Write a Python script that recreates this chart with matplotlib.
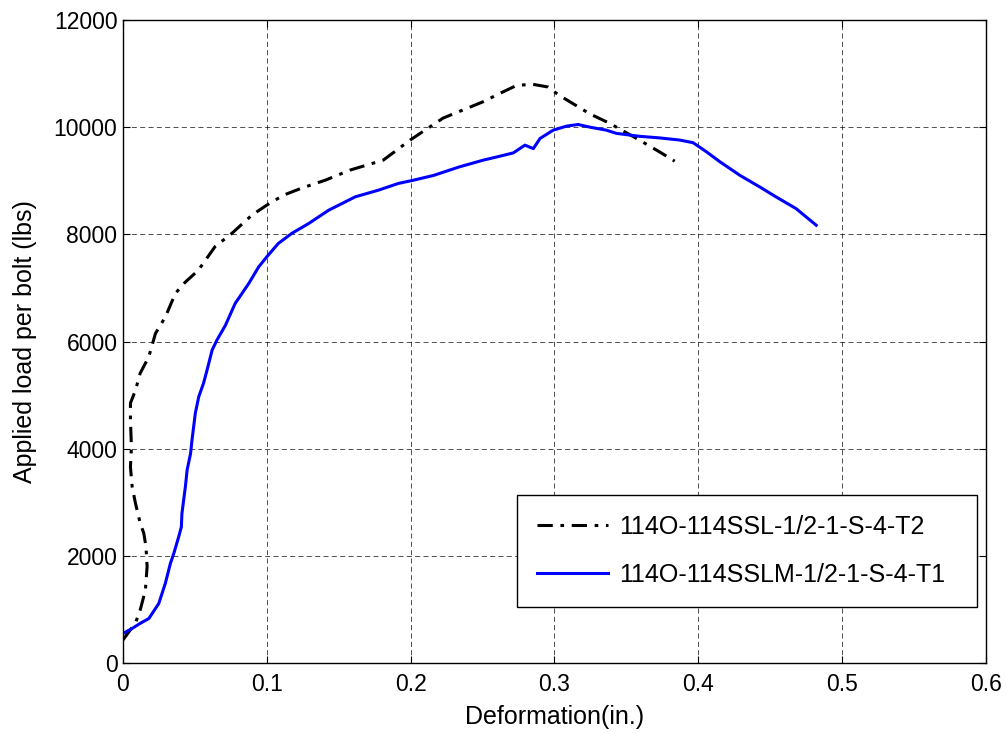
import matplotlib
matplotlib.use("Agg")
import matplotlib.pyplot as plt

plt.rcParams['font.family'] = ['Liberation Sans', 'DejaVu Sans']

# specimen T2 (dash-dot black)
t2_def = [0.0, 0.0087, 0.012, 0.0156, 0.0168, 0.016, 0.0145, 0.012, 0.0087, 0.0064,
          0.0052, 0.0059, 0.0052, 0.0052, 0.0087, 0.012, 0.0179, 0.0226, 0.0295, 0.0365,
          0.0434, 0.0524, 0.064, 0.0758, 0.0897, 0.1, 0.1115, 0.124, 0.1406, 0.158,
          0.181, 0.1997, 0.2226, 0.25, 0.262, 0.2737, 0.285, 0.2955, 0.303, 0.3245,
          0.3385, 0.359, 0.373, 0.3836]
t2_load = [430, 746, 990, 1360, 1800, 2170, 2420, 2610, 2980, 3290,
           3660, 4035, 4530, 4850, 5090, 5410, 5710, 6150, 6460, 6900,
           7110, 7330, 7770, 8020, 8360, 8545, 8730, 8860, 9010, 9200,
           9385, 9760, 10170, 10470, 10630, 10780, 10800, 10750, 10600, 10250,
           10070, 9760, 9540, 9365]

# specimen T1 (solid blue)
t1_def = [0.0, 0.0064, 0.012, 0.018, 0.0249, 0.0295, 0.033, 0.0353, 0.0388, 0.0406,
          0.041, 0.0434, 0.0446, 0.047, 0.048, 0.0503, 0.0527, 0.056, 0.0585, 0.062,
          0.0654, 0.0712, 0.078, 0.0874, 0.0943, 0.1, 0.108, 0.1175, 0.129, 0.143,
          0.1615, 0.1777, 0.1915, 0.2019, 0.216, 0.234, 0.2505, 0.26, 0.2714, 0.2795,
          0.2853, 0.29, 0.2992, 0.3085, 0.3165, 0.3247, 0.336, 0.343, 0.359, 0.373,
          0.387, 0.3964, 0.4057, 0.415, 0.429, 0.4427, 0.454, 0.468, 0.482]
t1_load = [550, 645, 740, 830, 1110, 1490, 1860, 2040, 2360, 2540,
           2790, 3290, 3600, 3910, 4160, 4660, 4970, 5220, 5470, 5840,
           6030, 6300, 6710, 7080, 7390, 7580, 7830, 8020, 8200, 8450,
           8700, 8825, 8950, 9010, 9100, 9260, 9385, 9445, 9520, 9665,
           9600, 9790, 9945, 10020, 10050, 10000, 9945, 9885, 9830, 9800,
           9760, 9710, 9540, 9355, 9100, 8885, 8700, 8480, 8170]

labels = ['114O-114SSL-1/2-1-S-4-T2', '114O-114SSLM-1/2-1-S-4-T1']

fig = plt.figure(figsize=(10.07, 7.33), dpi=100)
ax = fig.add_axes([0.1221, 0.0955, 0.857, 0.8772])

l1, = ax.plot(t2_def, t2_load, color='black', lw=2.2, label=labels[0])
l1.set_dashes([5, 2.5, 1.2, 2.5])
ax.plot(t1_def, t1_load, color='blue', lw=2.2, label=labels[1])

ax.set_xlim(0, 0.6)
ax.set_ylim(0, 12000)
ax.set_xticks([0, 0.1, 0.2, 0.3, 0.4, 0.5, 0.6])
ax.set_xticklabels(['0', '0.1', '0.2', '0.3', '0.4', '0.5', '0.6'])
ax.set_yticks(range(0, 12001, 2000))
ax.grid(True, color='black', linestyle=(0, (6, 4)), linewidth=0.6, alpha=0.8)
ax.tick_params(direction='in', top=True, right=True, labelsize=16.5, length=5)
ax.tick_params(axis='x', pad=7)
ax.tick_params(axis='y', pad=4)
for s in ax.spines.values():
    s.set_linewidth(1.0)

ax.set_xlabel('Deformation(in.)', fontsize=18, labelpad=7)
ax.set_ylabel('Applied load per bolt (lbs)', fontsize=18, labelpad=12)

# legend box spans a fixed width in the lower right
leg = ax.legend(loc='lower left', bbox_to_anchor=(0.4566, 0.0871, 0.533, 0.1757),
                mode='expand', borderaxespad=0,
                fontsize=18, fancybox=False, framealpha=1, edgecolor='black',
                handlelength=2.85, borderpad=0.8, labelspacing=0.95, handletextpad=0.45)
leg.get_frame().set_linewidth(1.0)

fig.savefig('out.png', dpi=100)
